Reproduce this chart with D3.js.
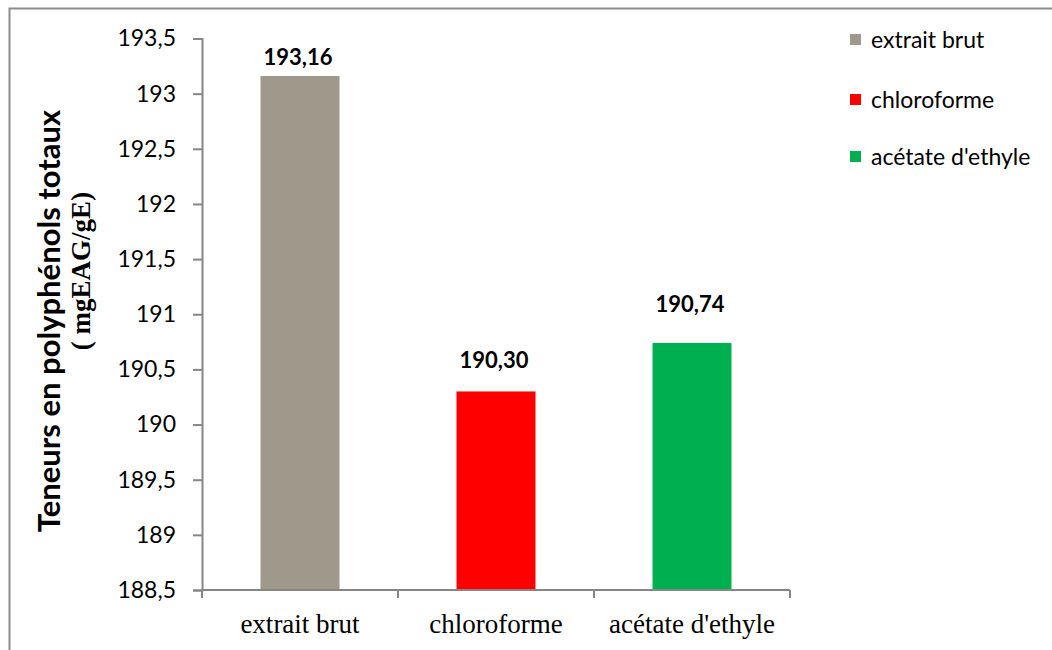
<!DOCTYPE html>
<html>
<head>
<meta charset="utf-8">
<script src="https://cdn.jsdelivr.net/npm/d3@7"></script>
<style>
  html, body { margin: 0; padding: 0; background: #fff; }
  svg { display: block; }
</style>
</head>
<body>
<svg id="chart" width="1052" height="650"></svg>
<script>
// Total polyphenol content per extract (mg EAG / g E)
const categories = ["extrait brut", "chloroforme", "acétate d'ethyle"];
const values = [193.16, 190.30, 190.74];
const valueLabels = ["193,16", "190,30", "190,74"];
const yTicks = [188.5, 189, 189.5, 190, 190.5, 191, 191.5, 192, 192.5, 193, 193.5];
const colors = ["#9e998b", "#ff0000", "#00b050"];
// distance of each value label above its bar (px)
const labelLift = [11, 23, 31];

const svg = d3.select("#chart");
const margin = { left: 202, right: 262, top: 38.5, bottom: 60 };
const W = 1052, H = 650;

// outer frame (right and bottom edges fall outside the view)
svg.append("rect")
  .attr("x", 9.5).attr("y", 8.5)
  .attr("width", 1100).attr("height", 700)
  .attr("fill", "none").attr("stroke", "#8c8c8c").attr("stroke-width", 2);

const x = d3.scaleBand().domain(categories)
  .range([margin.left, W - margin.right]).paddingInner(0).paddingOuter(0);
const y = d3.scaleLinear().domain([188.5, 193.5]).range([H - margin.bottom, margin.top]);

const barW = x.bandwidth() * 0.403;

// bars
svg.append("g").selectAll("rect").data(values).join("rect")
  .attr("x", (d, i) => x(categories[i]) + (x.bandwidth() - barW) / 2)
  .attr("y", d => y(d))
  .attr("width", barW)
  .attr("height", d => y(188.5) - y(d))
  .attr("fill", (d, i) => colors[i]);

// y axis
const yAxis = svg.append("g")
  .attr("transform", `translate(${margin.left},0)`)
  .call(d3.axisLeft(y).tickValues(yTicks).tickSize(9).tickPadding(17)
    .tickFormat(d => d3.format(".1f")(d).replace(/\.0$/, "").replace(".", ",")));
yAxis.select(".domain").attr("stroke", "#868686").attr("stroke-width", 2);
yAxis.selectAll(".tick line").attr("stroke", "#868686").attr("stroke-width", 2);
yAxis.selectAll(".tick text")
  .attr("font-family", "Lato, 'Open Sans', sans-serif")
  .attr("font-size", 23).attr("fill", "#000");

// x axis: ticks at category boundaries
const xBase = y(188.5);
const gx = svg.append("g");
gx.append("line")
  .attr("x1", margin.left).attr("x2", W - margin.right)
  .attr("y1", xBase).attr("y2", xBase)
  .attr("stroke", "#868686").attr("stroke-width", 2);
const bounds = categories.map(c => x(c)).concat([x(categories[categories.length - 1]) + x.bandwidth()]);
gx.selectAll("line.b").data(bounds).join("line").attr("class", "b")
  .attr("x1", d => d).attr("x2", d => d)
  .attr("y1", xBase).attr("y2", xBase + 8)
  .attr("stroke", "#868686").attr("stroke-width", 2);
gx.selectAll("text").data(categories).join("text")
  .attr("x", d => x(d) + x.bandwidth() / 2)
  .attr("y", xBase + 43)
  .attr("text-anchor", "middle")
  .attr("font-family", "'Liberation Serif', 'Times New Roman', serif")
  .attr("font-size", 27).attr("fill", "#000")
  .text(d => d);

// value labels
svg.append("g").selectAll("text").data(values).join("text")
  .attr("x", (d, i) => x(categories[i]) + x.bandwidth() / 2 - 2)
  .attr("y", (d, i) => y(d) - labelLift[i])
  .attr("text-anchor", "middle")
  .attr("font-family", "Lato, 'Open Sans', sans-serif")
  .attr("font-weight", "bold")
  .attr("font-size", 22).attr("fill", "#000")
  .text((d, i) => valueLabels[i]);

// y axis title (two lines)
svg.append("text")
  .attr("transform", "translate(60,321) rotate(-90)")
  .attr("text-anchor", "middle")
  .attr("font-family", "Lato, 'Open Sans', sans-serif")
  .attr("font-weight", "bold").attr("font-size", 31)
  .text("Teneurs en polyphénols totaux");
svg.append("text")
  .attr("transform", "translate(90,271) rotate(-90)")
  .attr("text-anchor", "middle")
  .attr("font-family", "'Liberation Serif', 'Times New Roman', serif")
  .attr("font-weight", "bold").attr("font-size", 27)
  .text("( mgEAG/gE)");

// legend
const legend = svg.append("g").selectAll("g").data(categories).join("g")
  .attr("transform", (d, i) => `translate(850,${[40, 100, 157][i]})`);
legend.append("rect")
  .attr("x", 0).attr("y", -6).attr("width", 11).attr("height", 11)
  .attr("fill", (d, i) => colors[i]);
legend.append("text")
  .attr("x", 21).attr("y", 0).attr("dy", "0.36em")
  .attr("font-family", "Lato, 'Open Sans', sans-serif")
  .attr("font-size", 23).attr("fill", "#000")
  .text(d => d);
</script>
</body>
</html>
